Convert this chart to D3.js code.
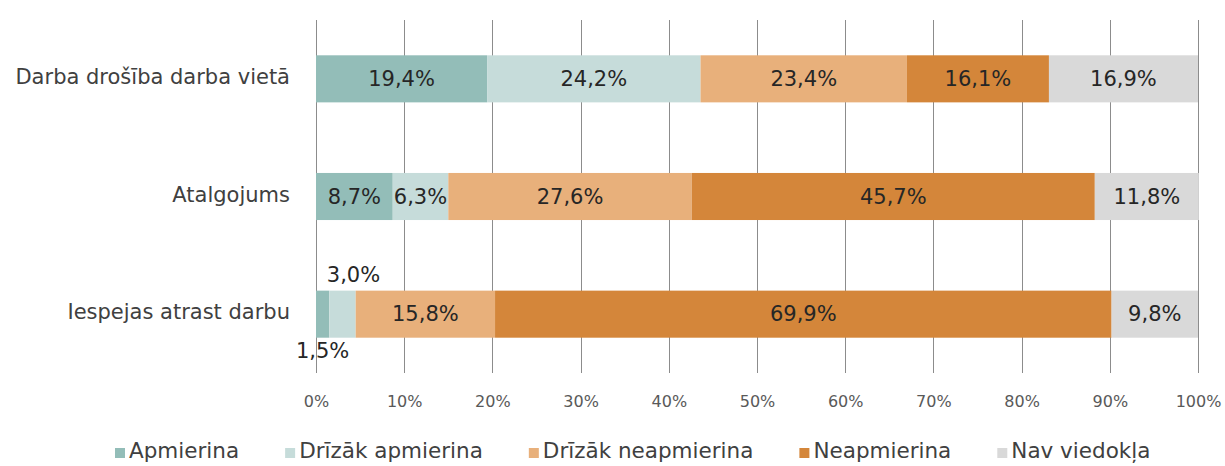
<!DOCTYPE html>
<html>
<head>
<meta charset="utf-8">
<script src="https://cdn.jsdelivr.net/npm/d3@7"></script>
<style>
  html, body { margin: 0; padding: 0; background: #ffffff; }
  svg { display: block; }
</style>
</head>
<body>
<svg id="chart" width="1225" height="466"></svg>
<script>
// ---- data ----
const categories = ["Darba drošība darba vietā", "Atalgojums", "Iespejas atrast darbu"];
const seriesNames = ["Apmierina", "Drīzāk apmierina", "Drīzāk neapmierina", "Neapmierina", "Nav viedokļa"];
const apmierina = [19.4, 8.7, 1.5];
const drizakApmierina = [24.2, 6.3, 3.0];
const drizakNeapmierina = [23.4, 27.6, 15.8];
const neapmierina = [16.1, 45.7, 69.9];
const navViedokla = [16.9, 11.8, 9.8];
const tickValues = [0, 10, 20, 30, 40, 50, 60, 70, 80, 90, 100];
const colors = ["#93bdb8", "#c6dcda", "#e8b07b", "#d4863a", "#d9d9d9"];

const seriesValues = [apmierina, drizakApmierina, drizakNeapmierina, neapmierina, navViedokla];
const rows = categories.map((c, i) => {
  const r = { category: c };
  seriesNames.forEach((s, k) => { r[s] = seriesValues[k][i]; });
  return r;
});

const svg = d3.select("#chart");
const font = "'DejaVu Sans', sans-serif";

const x = d3.scaleLinear().domain([0, 100]).range([316, 1198]);
const y = d3.scaleBand().domain(categories).range([20, 373]).paddingInner(0.6).paddingOuter(0.3);

// gridlines
svg.append("g").selectAll("line").data(tickValues).join("line")
  .attr("x1", d => Math.round(x(d)) + 0.5).attr("x2", d => Math.round(x(d)) + 0.5)
  .attr("y1", 20).attr("y2", 373)
  .attr("stroke", "#8c8c8c").attr("stroke-width", 1);

// stacked bars
const stack = d3.stack().keys(seriesNames);
const stacked = stack(rows);

const layers = svg.append("g").selectAll("g").data(stacked).join("g")
  .attr("fill", (d, i) => colors[i]);
layers.selectAll("rect").data(d => d).join("rect")
  .attr("x", d => x(d[0]))
  .attr("width", d => x(d[1]) - x(d[0]))
  .attr("y", d => y(d.data.category))
  .attr("height", y.bandwidth());

// value labels
const labels = [];
stacked.forEach((layer, k) => {
  layer.forEach(d => {
    labels.push({ v: d[1] - d[0], x0: d[0], x1: d[1], cat: d.data.category, k });
  });
});
const fmt = v => v.toFixed(1).replace(".", ",") + "%";
svg.append("g").selectAll("text").data(labels).join("text")
  .attr("x", d => x((d.x0 + d.x1) / 2) + (d.v < 2 ? 0 : (d.v < 4 ? 11 : 0)))
  .attr("y", d => {
    const yc = y(d.cat) + y.bandwidth() / 2;
    if (d.v < 2) return yc + y.bandwidth() / 2 + 20;   // small: below bar
    if (d.v < 4) return yc - y.bandwidth() / 2 - 9;    // small: above bar
    return yc + 7;
  })
  .attr("text-anchor", "middle")
  .attr("font-family", font).attr("font-size", 21)
  .attr("fill", "#262626")
  .text(d => fmt(d.v));

// category labels
svg.append("g").selectAll("text").data(categories).join("text")
  .attr("x", 290)
  .attr("y", d => y(d) + y.bandwidth() / 2 + 5)
  .attr("text-anchor", "end")
  .attr("font-family", font).attr("font-size", 21)
  .attr("fill", "#404040")
  .text(d => d);

// x axis tick labels
const xAxis = d3.axisBottom(x).tickValues(tickValues).tickFormat(d => d + "%").tickSize(0).tickPadding(0);
const ax = svg.append("g").attr("transform", "translate(0,393)").call(xAxis);
ax.select(".domain").remove();
ax.selectAll("text")
  .attr("font-family", font).attr("font-size", 16)
  .attr("fill", "#595959").attr("dy", "0.9em");

// legend
const legend = svg.append("g");
let lx = 115;
seriesNames.forEach((s, i) => {
  legend.append("rect").attr("x", lx).attr("y", 448).attr("width", 10).attr("height", 10).attr("fill", colors[i]);
  const t = legend.append("text").attr("x", lx + 14).attr("y", 458)
    .attr("font-family", font).attr("font-size", 21.5).attr("fill", "#404040").text(s);
  lx += 14 + t.node().getComputedTextLength() + 46;
});
</script>
</body>
</html>
